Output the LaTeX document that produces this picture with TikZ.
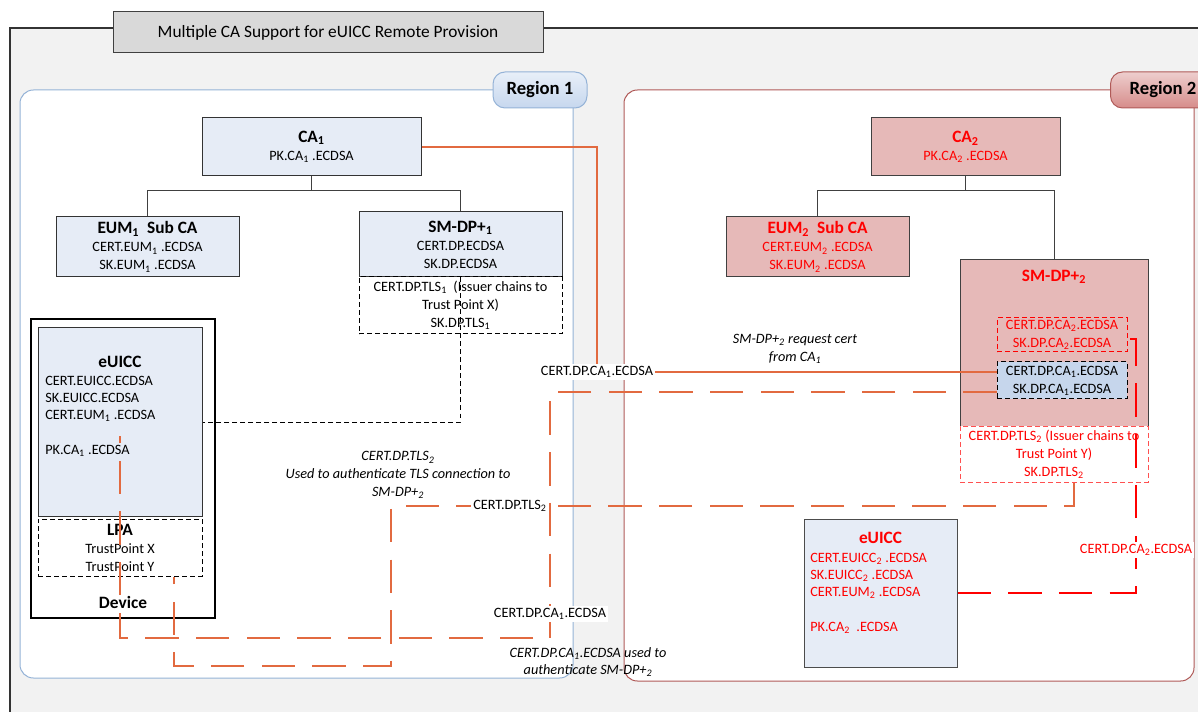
\documentclass[tikz,border=0pt]{standalone}
\usepackage{fontspec}
\setmainfont{Carlito}

\definecolor{framegray}{RGB}{242,242,242}
\definecolor{titlegray}{RGB}{217,217,217}
\definecolor{regionblue}{RGB}{149,179,215}
\definecolor{tabblue}{RGB}{198,215,238}
\definecolor{boxblue}{RGB}{230,236,246}
\definecolor{innerblue}{RGB}{198,214,236}
\definecolor{boxpink}{RGB}{230,185,184}
\definecolor{regionred}{RGB}{176,90,88}
\definecolor{tabred}{RGB}{214,140,138}
\definecolor{certorange}{RGB}{226,106,64}
\definecolor{tlsred}{RGB}{255,80,80}

\newcommand{\boxhead}[1]{{\fontsize{13}{15}\selectfont\bfseries #1}}

\begin{document}
\begin{tikzpicture}[x=0.75pt,y=-0.75pt,
  every node/.style={font=\fontsize{10.7}{13.5}\selectfont,inner sep=0pt},
  boxsize/.style 2 args={minimum width=#1*0.75pt,minimum height=#2*0.75pt},
  bluebox/.style={draw=black!80,line width=0.75pt,fill=boxblue,align=center},
  pinkbox/.style={draw=black!75,line width=0.75pt,fill=boxpink,text=red,align=center},
  tlsbox/.style={draw=black,dash pattern=on 3.5pt off 2.5pt,line width=0.75pt,fill=white,align=center},
  tlsredbox/.style={draw=tlsred,dash pattern=on 3.5pt off 2.5pt,line width=0.75pt,fill=white,text=red,align=center},
  ca2box/.style={draw=red,dash pattern=on 3.5pt off 2.5pt,line width=0.75pt,text=red,align=center},
  ca1box/.style={draw=black,dash pattern=on 3.5pt off 2.5pt,line width=0.75pt,fill=innerblue,align=center},
  head/.style={font=\fontsize{13}{15}\selectfont\bfseries},
  keys/.style={align=left,font=\fontsize{10.7}{12.75}\selectfont},
  lbl/.style={fill=white,inner sep=1.5pt},
  note/.style={align=center,font=\fontsize{10.7}{13.2}\selectfont\itshape},
  tree/.style={draw=black!75,line width=0.75pt},
  dpline/.style={draw=black,dash pattern=on 3.5pt off 2.5pt,line width=0.75pt},
  caline/.style={draw=certorange,line width=1.5pt},
  cadash/.style={draw=certorange,line width=1.6pt,dash pattern=on 25pt off 13pt},
  ca2dash/.style={draw=red,line width=1.8pt,dash pattern=on 25pt off 13pt}]

\useasboundingbox (0,0) rectangle (1198,712);
\fill[white] (0,0) rectangle (1198,712);

% outer frame and title
\fill[framegray] (10,28) rectangle (1215,730);
\draw[black!80,line width=1pt] (10,730) -- (10,28) -- (1215,28);
\node[draw=black!75,line width=0.75pt,fill=titlegray,boxsize={430}{41},font=\fontsize{13}{15}\selectfont] (title) at (328,32.5) {Multiple CA Support for eUICC Remote Provision};

% regions
\draw[regionblue,fill=white,line width=0.75pt,rounded corners=10pt] (20,90) rectangle (573,678);
\node[draw=regionblue,line width=0.75pt,rounded corners=9pt,top color=white!60!tabblue,bottom color=tabblue,boxsize={94}{36},font=\fontsize{14}{16}\selectfont\bfseries] (reg1) at (540,90) {Region 1};
\draw[regionred,fill=white,line width=0.75pt,rounded corners=10pt] (624,90) rectangle (1194,681);
\node[draw=regionred,line width=0.75pt,rounded corners=9pt,top color=boxpink!70!white,bottom color=tabred,boxsize={105}{36},font=\fontsize{14}{16}\selectfont\bfseries] (reg2) at (1163,90) {Region 2};

% region 1
\node[bluebox,boxsize={219}{58}] (ca1) at (311.5,147) {\boxhead{CA\textsubscript{1}}\\PK.CA\textsubscript{1} .ECDSA};
\node[bluebox,boxsize={183}{60}] (eum1) at (147.5,247) {\boxhead{EUM\textsubscript{1}\ \ Sub CA}\\CERT.EUM\textsubscript{1} .ECDSA\\SK.EUM\textsubscript{1} .ECDSA};
\node[bluebox,boxsize={203}{65}] (smdp1) at (460.5,244.5) {\boxhead{SM-DP+\textsubscript{1}}\\CERT.DP.ECDSA\\SK.DP.ECDSA};
\node[tlsbox,boxsize={203}{57}] (tls1) at (460.5,305.5) {CERT.DP.TLS\textsubscript{1}\ \ (Issuer chains to\\Trust Point X)\\SK.DP.TLS\textsubscript{1}};
\draw[tree] (ca1.south) -- (ca1.south |- 0,191);
\draw[tree] (eum1.north) |- (smdp1.north |- 0,191) -- (smdp1.north);

\node[draw=black,line width=1.8pt,fill=white,boxsize={184}{299}] (device) at (123,468.5) {};
\node[head] (devlbl) at (123,602) {Device};
\node[bluebox,boxsize={164}{188}] (eu1) at (120,422) {};
\node[head] (eu1head) at (120,362) {eUICC};
\node[keys,anchor=north west] (eu1keys) at (45,376) {CERT.EUICC.ECDSA\\SK.EUICC.ECDSA\\CERT.EUM\textsubscript{1} .ECDSA\\[13.5pt]PK.CA\textsubscript{1} .ECDSA};
\node[tlsbox,boxsize={164}{57}] (lpa) at (120,547.5) {\boxhead{LPA}\\TrustPoint X\\TrustPoint Y};
\coordinate (pkca1) at (120,436);

\draw[dpline] (smdp1.south) |- (eu1.east);

% region 2
\node[pinkbox,boxsize={189}{58}] (ca2) at (965.5,147) {\boxhead{CA\textsubscript{2}}\\PK.CA\textsubscript{2} .ECDSA};
\node[pinkbox,boxsize={183}{60}] (eum2) at (817.5,247) {\boxhead{EUM\textsubscript{2}\ \ Sub CA}\\CERT.EUM\textsubscript{2} .ECDSA\\SK.EUM\textsubscript{2} .ECDSA};
\node[pinkbox,boxsize={188}{166}] (smdp2) at (1054,343) {};
\node[head,text=red] (smdp2head) at (1054,277) {SM-DP+\textsubscript{2}};
\node[ca2box,boxsize={130}{34}] (dpca2) at (1062,335) {CERT.DP.CA\textsubscript{2}.ECDSA\\SK.DP.CA\textsubscript{2}.ECDSA};
\node[ca1box,boxsize={130}{37}] (dpca1) at (1062,380.5) {CERT.DP.CA\textsubscript{1}.ECDSA\\SK.DP.CA\textsubscript{1}.ECDSA};
\node[tlsredbox,boxsize={188}{56}] (tls2) at (1054,454) {CERT.DP.TLS\textsubscript{2} (Issuer chains to\\Trust Point Y)\\SK.DP.TLS\textsubscript{2}};
\draw[tree] (ca2.south) -- (ca2.south |- 0,191);
\draw[tree] (eum2.north) |- (smdp2.north |- 0,191) -- (smdp2.north);

\node[bluebox,draw=black!70,boxsize={153}{148}] (eu2) at (880.5,593) {};
\node[head,text=red] (eu2head) at (880.5,538) {eUICC};
\node[keys,text=red,anchor=north west] (eu2keys) at (810,553) {CERT.EUICC\textsubscript{2} .ECDSA\\SK.EUICC\textsubscript{2} .ECDSA\\CERT.EUM\textsubscript{2} .ECDSA\\[13.5pt]PK.CA\textsubscript{2}\ \ .ECDSA};

% certificate paths
\node[lbl] (lblca1top) at (597,372) {CERT.DP.CA\textsubscript{1}.ECDSA};
\draw[caline] (ca1.east) -| (lblca1top.north);
\draw[caline] (lblca1top.east) -- (lblca1top.east -| dpca1.west);

\draw[cadash] (dpca1.west |- 0,392) -| (550,638) -| (pkca1);
\draw[cadash] (1074,0 |- tls2.south) |- (391,506) |- (174,666) -- (174,0 |- lpa.south);
\draw[ca2dash] (eu2.east) -| (1136,339) -- (dpca2.east |- 0,339);

\node[lbl] (lblca1low) at (550,614) {CERT.DP.CA\textsubscript{1}.ECDSA};
\node[lbl] (lbltls2) at (510,506) {CERT.DP.TLS\textsubscript{2}};
\node[lbl,text=red] (lblca2) at (1136,550) {CERT.DP.CA\textsubscript{2}.ECDSA};

\node[note] (notereq) at (795,349) {SM-DP+\textsubscript{2} request cert\\from CA\textsubscript{1}};
\node[note] (notetls) at (398,475) {CERT.DP.TLS\textsubscript{2}\\Used to authenticate TLS connection to\\SM-DP+\textsubscript{2}};
\node[note] (noteauth) at (588,662) {CERT.DP.CA\textsubscript{1}.ECDSA used to\\authenticate SM-DP+\textsubscript{2}};
\end{tikzpicture}
\end{document}
